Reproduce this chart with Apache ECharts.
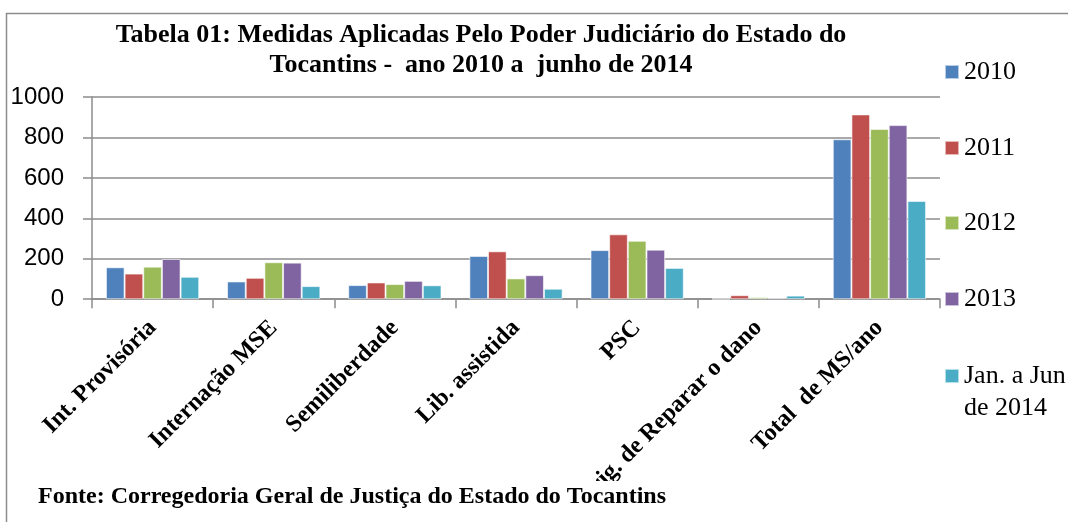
<!DOCTYPE html>
<html>
<head>
<meta charset="utf-8">
<script src="https://cdn.jsdelivr.net/npm/echarts@6/dist/echarts.min.js"></script>
<style>
  html, body { margin: 0; padding: 0; background: #fff; }
  #chart { width: 1068px; height: 522px; }
</style>
</head>
<body>
<div id="chart"></div>
<script>
// categorias e valores
const categorias = ['Int. Provisória', 'Internação MSE', 'Semiliberdade', 'Lib. assistida', 'PSC', 'Obrig. de Reparar o dano', 'Total  de MS/ano']
const anos = ['2010', '2011', '2012', '2013', 'Jan. a Jun de 2014']
const valores2010 = [158, 88, 70, 214, 243, 3, 791]
const valores2011 = [127, 106, 83, 237, 321, 20, 914]
const valores2012 = [161, 183, 75, 103, 289, 10, 842]
const valores2013 = [199, 181, 91, 119, 245, 7, 861]
const valores2014 = [111, 65, 69, 52, 155, 18, 486]
const yTicks = [0, 200, 400, 600, 800, 1000]

const cores = ['#4F81BD', '#C0504D', '#9BBB59', '#8064A2', '#4BACC6']
const serie = [valores2010, valores2011, valores2012, valores2013, valores2014]
// centro do ícone de cada legenda
const legendY = [72, 148, 223, 299, 376]

const chart = echarts.init(document.getElementById('chart'))

const option = {
  animation: false,
  color: cores,
  title: {
    text: 'Tabela 01: Medidas Aplicadas Pelo Poder Judiciário do Estado do\nTocantins -  ano 2010 a  junho de 2014',
    left: 476,
    top: 15,
    textAlign: 'center',
    textStyle: {
      fontFamily: 'Liberation Serif',
      fontWeight: 'bold',
      fontSize: 26,
      lineHeight: 30,
      color: '#000'
    }
  },
  // uma legenda por série para posicionar como no original
  legend: anos.map((a, i) => ({
    data: [a],
    left: 944,
    top: i === 4 ? legendY[i] - 48 : legendY[i] - 13,
    padding: 0,
    orient: 'vertical',
    itemWidth: 14,
    itemHeight: 14,
    itemGap: 5,
    icon: 'rect',
    selectedMode: false,
    formatter: (n) => n === 'Jan. a Jun de 2014' ? ' \nJan. a Jun\nde 2014' : n,
    textStyle: {
      fontFamily: 'Liberation Serif',
      fontSize: 26,
      color: '#000',
      lineHeight: i === 4 ? 32 : 26
    }
  })),
  grid: {
    left: 92,
    right: 128,
    top: 97,
    bottom: 222
  },
  xAxis: {
    type: 'category',
    data: categorias,
    axisLine: { lineStyle: { color: '#8c8c8c', width: 1.5 } },
    axisTick: { show: true, length: 9, lineStyle: { color: '#8c8c8c', width: 1.5 } },
    axisLabel: {
      rotate: 45,
      margin: 25,
      interval: 0,
      fontFamily: 'Liberation Serif',
      fontWeight: 'bold',
      fontSize: 24,
      color: '#000'
    }
  },
  yAxis: {
    type: 'value',
    min: 0,
    max: 1000,
    interval: 200,
    axisLine: { show: true, lineStyle: { color: '#8c8c8c', width: 1.5 } },
    axisTick: { show: true, length: 9, lineStyle: { color: '#8c8c8c', width: 1.5 } },
    axisLabel: {
      margin: 28,
      fontFamily: 'Liberation Sans',
      fontSize: 24,
      color: '#000',
      formatter: (v) => yTicks.includes(v) ? String(v) : ''
    },
    splitLine: { lineStyle: { color: '#8c8c8c', width: 1.5 } }
  },
  series: anos.map((a, i) => ({
    name: a,
    type: 'bar',
    data: serie[i],
    barGap: '0%',
    barCategoryGap: '23%',
    itemStyle: { borderColor: 'rgba(255,255,255,0.6)', borderWidth: 1 }
  })),
  graphic: [
    {
      type: 'rect',
      left: 4,
      top: 11,
      shape: { width: 1200, height: 700 },
      style: { fill: 'none', stroke: '#8c8c8c', lineWidth: 1.5 },
      z: 100
    },
    {
      // corta o rótulo longo como no original
      type: 'rect',
      left: 500,
      top: 481,
      shape: { width: 120, height: 41 },
      style: { fill: '#fff' },
      z: 101
    },
    {
      type: 'text',
      left: 38,
      top: 485,
      style: {
        text: 'Fonte: Corregedoria Geral de Justiça do Estado do Tocantins',
        fontFamily: 'Liberation Serif',
        fontWeight: 'bold',
        fontSize: 24,
        fill: '#000'
      },
      z: 102
    }
  ]
}

chart.setOption(option)
</script>
</body>
</html>
